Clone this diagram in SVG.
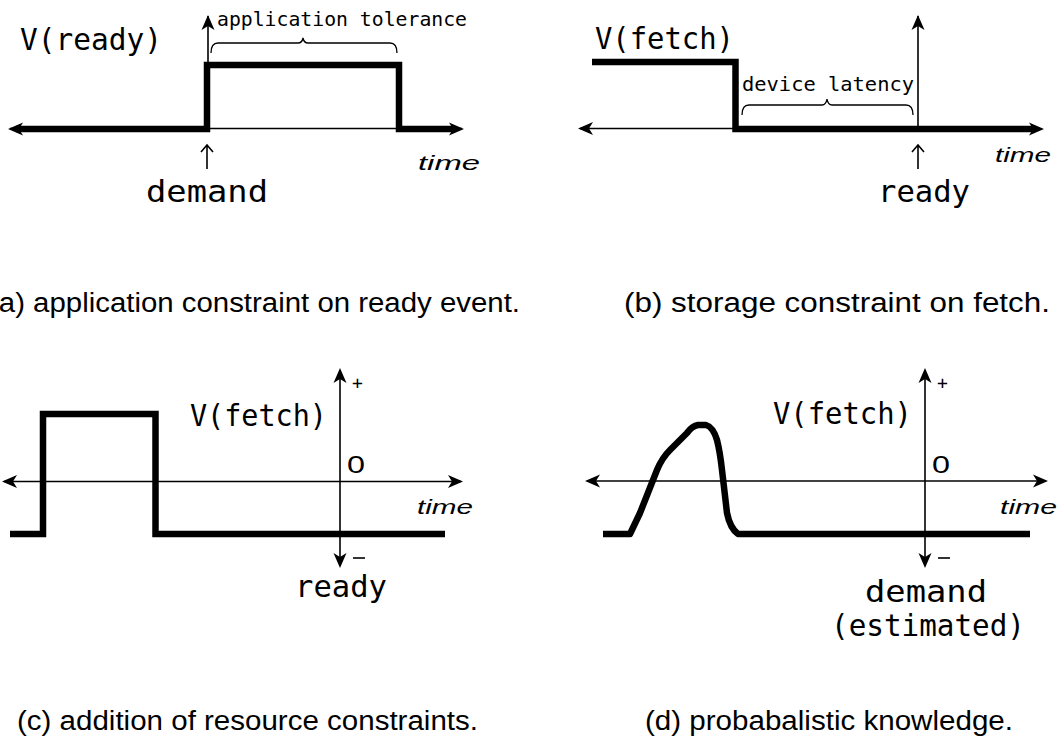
<svg xmlns="http://www.w3.org/2000/svg" xmlns:xlink="http://www.w3.org/1999/xlink" width="1058" height="738" viewBox="0 0 1058 738">
<style>
.thick{fill:none;stroke:#000;stroke-width:6.5;stroke-linejoin:miter;stroke-linecap:butt}
.curve{fill:none;stroke:#000;stroke-width:6.5;stroke-linejoin:round;stroke-linecap:butt}
.thin{fill:none;stroke:#000;stroke-width:1.6}
.brace{fill:none;stroke:#000;stroke-width:1.3}
.px{font-family:"DejaVu Sans Mono","Liberation Mono",monospace;fill:#000}
.zero{font-family:"Liberation Sans",Arial,sans-serif;fill:#000}
.it{font-family:"Liberation Sans",Arial,sans-serif;font-style:italic;fill:#000}
.cap{font-family:"Liberation Sans Narrow","Liberation Sans",Arial,sans-serif;font-size:27px;fill:#000}
</style>
<defs>
<path id="ah" d="M0,0 L-15,-6.5 L-11,0 L-15,6.5 Z" fill="#000"/>
<path id="up" d="M0,0 V24 M-6,7 L0,0 L6,7" fill="none" stroke="#000" stroke-width="1.6"/>
</defs>
<rect width="1058" height="738" fill="#fff"/>

<g id="panel-a">
<g id="a-connectors">
<path class="thin" d="M10,128.5 H462"/>
<path class="thin" d="M208,129 V16"/>
<use xlink:href="#ah" transform="translate(208,15) rotate(-90)"/>
<path class="thick" d="M16,129 H207 V65 H399 V129 H455"/>
<use xlink:href="#ah" transform="translate(8,129) rotate(180)"/>
<use xlink:href="#ah" transform="translate(464,129)"/>
<path class="brace" d="M211,53 Q211,43 218,43 H298 Q302,43 303,38 Q304,43 308,43 H390 Q397,43 397,53"/>
<use xlink:href="#up" transform="translate(207,145)"/>
</g>
<text class="px" x="20" y="50" font-size="30" textLength="142" lengthAdjust="spacingAndGlyphs">V(ready)</text>
<text class="px" x="217" y="26" font-size="19" textLength="250" lengthAdjust="spacingAndGlyphs">application tolerance</text>
<text class="px" x="146" y="202" font-size="30" textLength="122" lengthAdjust="spacingAndGlyphs">demand</text>
<text class="it" x="418" y="170" font-size="20" textLength="62" lengthAdjust="spacingAndGlyphs">time</text>
<text class="cap" x="-11" y="312" textLength="531" lengthAdjust="spacingAndGlyphs">(a) application constraint on ready event.</text>
</g>

<g id="panel-b">
<g id="b-connectors">
<path class="thin" d="M580,128.5 H736"/>
<use xlink:href="#ah" transform="translate(578,128.5) rotate(180)"/>
<path class="thin" d="M918,129 V16"/>
<use xlink:href="#ah" transform="translate(918,15) rotate(-90)"/>
<path class="thick" d="M592,62 H735.5 V129 H1034"/>
<use xlink:href="#ah" transform="translate(1044,129)"/>
<path class="brace" d="M742,115 Q742,105 749,105 H822 Q826,105 827,99 Q828,105 832,105 H906 Q913,105 913,115"/>
<use xlink:href="#up" transform="translate(918,145)"/>
</g>
<text class="px" x="595" y="49" font-size="30" textLength="139" lengthAdjust="spacingAndGlyphs">V(fetch)</text>
<text class="px" x="742" y="91" font-size="19" textLength="172" lengthAdjust="spacingAndGlyphs">device latency</text>
<text class="px" x="878" y="202" font-size="30" textLength="92" lengthAdjust="spacingAndGlyphs">ready</text>
<text class="it" x="995" y="162" font-size="20" textLength="56" lengthAdjust="spacingAndGlyphs">time</text>
<text class="cap" x="624" y="312" textLength="426" lengthAdjust="spacingAndGlyphs">(b) storage constraint on fetch.</text>
</g>

<g id="panel-c">
<g id="c-connectors">
<path class="thin" d="M4,481.5 H461"/>
<use xlink:href="#ah" transform="translate(2,481.5) rotate(180)"/>
<use xlink:href="#ah" transform="translate(463,481.5)"/>
<path class="thin" d="M340,370 V566"/>
<use xlink:href="#ah" transform="translate(340,368) rotate(-90)"/>
<use xlink:href="#ah" transform="translate(340,568) rotate(90)"/>
<path class="thick" d="M10,534 H43 V414 H155.5 V534 H445"/>
</g>
<text class="px" x="190" y="426" font-size="30" textLength="137" lengthAdjust="spacingAndGlyphs">V(fetch)</text>
<text class="px" x="352" y="389" font-size="18">+</text>
<text class="zero" x="347" y="473" font-size="24" textLength="18" lengthAdjust="spacingAndGlyphs">0</text>
<text class="it" x="417" y="514" font-size="20" textLength="56" lengthAdjust="spacingAndGlyphs">time</text>
<path class="thin" d="M353,558 H365"/>
<text class="px" x="295" y="597" font-size="30" textLength="92" lengthAdjust="spacingAndGlyphs">ready</text>
<text class="cap" x="17" y="730" textLength="461" lengthAdjust="spacingAndGlyphs">(c) addition of resource constraints.</text>
</g>

<g id="panel-d">
<g id="d-connectors">
<path class="thin" d="M587,481 H1046"/>
<use xlink:href="#ah" transform="translate(585,481) rotate(180)"/>
<use xlink:href="#ah" transform="translate(1048,481)"/>
<path class="thin" d="M925,370 V566"/>
<use xlink:href="#ah" transform="translate(925,368) rotate(-90)"/>
<use xlink:href="#ah" transform="translate(925,568) rotate(90)"/>
<path class="curve" d="M603,534 H630 L640,513 L657,470 Q662,458 670,450 L687,433 Q692,426 698,425 H706 Q713,427 717,440 Q720,452 722,470 L727,513 Q730,528 738,534 H1030"/>
</g>
<text class="px" x="773" y="424" font-size="30" textLength="139" lengthAdjust="spacingAndGlyphs">V(fetch)</text>
<text class="px" x="937" y="389" font-size="18">+</text>
<text class="zero" x="932" y="473" font-size="24" textLength="18" lengthAdjust="spacingAndGlyphs">0</text>
<text class="it" x="1000" y="514" font-size="20" textLength="57" lengthAdjust="spacingAndGlyphs">time</text>
<path class="thin" d="M938,558 H950"/>
<text class="px" x="865" y="602" font-size="30" textLength="122" lengthAdjust="spacingAndGlyphs">demand</text>
<text class="px" x="831" y="636" font-size="30" textLength="194" lengthAdjust="spacingAndGlyphs">(estimated)</text>
<text class="cap" x="645" y="730" textLength="368" lengthAdjust="spacingAndGlyphs">(d) probabalistic knowledge.</text>
</g>
</svg>
